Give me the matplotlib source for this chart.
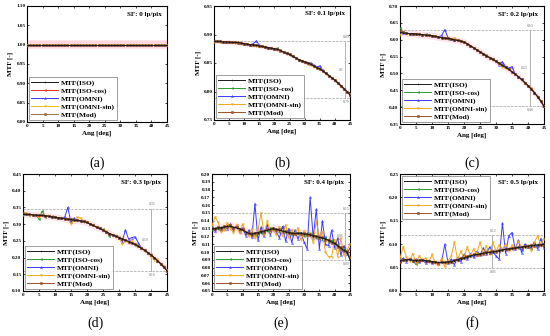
import numpy as np
import matplotlib
matplotlib.use("Agg")
import matplotlib.pyplot as plt

plt.rcParams['font.family'] = ['Liberation Serif', 'DejaVu Serif']

ang = list(range(0, 46))

names = ["MTF(ISO)", "MTF(ISO-cos)", "MTF(OMNI)", "MTF(OMNI-sin)", "MTF(Mod)"]
sf_labels = ["SF: 0 lp/pix", "SF: 0.1 lp/pix", "SF: 0.2 lp/pix",
             "SF: 0.3 lp/pix", "SF: 0.4 lp/pix", "SF: 0.5 lp/pix"]
panel_tags = ["(a)", "(b)", "(c)", "(d)", "(e)", "(f)"]

# (a) SF 0 - everything sits at 1.0
iso_a = [1.00] * 46
isocos_a = [1.00] * 46
omni_a = [1.00] * 46
omnisin_a = [1.00] * 46
mod_a = [1.00] * 46

# (b) SF 0.1
iso_b = [.888, .888, .888, .887, .887, .887, .886, .886, .886, .885, .884, .883, .882, .882, .881, .880,
         .879, .878, .877, .876, .875, .874, .872, .869, .867, .865, .862, .859, .856, .854, .852, .850,
         .848, .845, .842, .840, .836, .832, .828, .824, .820, .815, .810, .805, .800, .794]
isocos_b = [.888, .888, .887, .887, .887, .886, .886, .886, .885, .885, .884, .883, .882, .881, .881, .880,
            .879, .878, .877, .876, .875, .876, .872, .869, .867, .864, .862, .859, .855, .854, .852, .849,
            .848, .845, .842, .839, .836, .832, .828, .824, .819, .815, .810, .805, .800, .795]
omni_b = [.888, .888, .888, .887, .887, .887, .886, .886, .886, .885, .884, .883, .882, .884, .889, .881,
          .879, .878, .877, .876, .875, .874, .872, .869, .867, .865, .862, .859, .856, .854, .852, .850,
          .850, .846, .843, .845, .837, .832, .828, .824, .820, .815, .810, .805, .800, .794]
omnisin_b = [.887, .888, .887, .887, .886, .887, .886, .885, .886, .885, .884, .883, .882, .882, .880, .880,
             .879, .878, .877, .876, .875, .873, .872, .869, .866, .865, .862, .859, .856, .853, .852, .850,
             .847, .843, .842, .840, .836, .831, .828, .824, .820, .815, .810, .804, .800, .795]
mod_b = [.888, .888, .888, .887, .887, .887, .886, .886, .885, .885, .884, .883, .882, .882, .881, .880,
         .879, .878, .877, .876, .875, .874, .871, .869, .867, .865, .862, .859, .856, .854, .851, .850,
         .848, .845, .842, .840, .836, .832, .828, .823, .820, .815, .810, .805, .800, .794]

# (c) SF 0.2
iso_c = [.622, .620, .619, .618, .618, .617, .616, .615, .614, .613, .612, .610, .608, .606, .605, .604,
         .602, .600, .598, .596, .593, .588, .582, .576, .570, .564, .558, .552, .547, .542, .536, .530,
         .524, .518, .512, .505, .498, .490, .482, .473, .464, .454, .443, .431, .418, .402]
isocos_c = [.635, .622, .619, .618, .617, .617, .616, .615, .616, .613, .612, .610, .608, .606, .605, .603,
            .602, .600, .598, .596, .593, .588, .582, .576, .570, .564, .558, .554, .547, .542, .536, .530,
            .524, .518, .512, .505, .498, .490, .482, .473, .464, .454, .443, .431, .418, .403]
omni_c = [.622, .620, .619, .618, .618, .617, .616, .615, .614, .613, .612, .610, .608, .612, .630, .606,
          .602, .600, .598, .596, .593, .588, .582, .576, .570, .564, .558, .552, .547, .542, .536, .526,
          .535, .520, .516, .520, .498, .490, .482, .473, .464, .454, .443, .431, .418, .402]
omnisin_c = [.615, .620, .618, .618, .617, .617, .615, .615, .614, .612, .612, .610, .607, .606, .604, .604,
             .602, .604, .600, .596, .592, .588, .582, .576, .569, .564, .558, .551, .547, .541, .536, .528,
             .520, .515, .512, .504, .498, .490, .481, .473, .463, .458, .443, .431, .418, .402]
mod_c = [.625, .623, .619, .618, .618, .617, .616, .615, .614, .613, .612, .610, .608, .606, .605, .604,
         .602, .600, .598, .596, .593, .588, .582, .576, .570, .564, .558, .552, .547, .542, .536, .530,
         .524, .518, .512, .505, .498, .490, .482, .473, .464, .454, .443, .431, .418, .402]

# (d) SF 0.3
iso_d = [.330, .329, .329, .328, .327, .326, .326, .325, .324, .322, .321, .319, .318, .316, .315, .314,
         .312, .311, .310, .308, .305, .300, .296, .291, .287, .282, .277, .272, .268, .264, .260, .256,
         .252, .248, .244, .240, .234, .228, .222, .215, .208, .200, .191, .182, .172, .161]
isocos_d = [.331, .330, .328, .328, .327, .316, .339, .322, .324, .323, .320, .319, .317, .316, .315, .313,
            .312, .311, .309, .308, .305, .300, .296, .291, .287, .284, .277, .266, .268, .264, .259, .256,
            .252, .247, .244, .239, .234, .228, .221, .215, .207, .200, .191, .181, .172, .162]
omni_d = [.330, .329, .329, .328, .327, .326, .326, .325, .324, .322, .321, .319, .318, .320, .350, .305,
          .318, .311, .310, .308, .305, .300, .296, .291, .287, .282, .277, .272, .268, .264, .260, .248,
          .283, .255, .260, .262, .245, .228, .222, .215, .208, .200, .191, .182, .172, .161]
omnisin_d = [.328, .334, .328, .327, .326, .320, .327, .324, .325, .321, .322, .318, .319, .315, .316, .300,
             .313, .320, .318, .307, .306, .299, .297, .290, .288, .281, .278, .271, .269, .263, .261, .240,
             .250, .245, .250, .238, .236, .226, .223, .213, .205, .193, .195, .180, .174, .162]
mod_d = [.332, .330, .329, .328, .327, .327, .326, .325, .324, .322, .321, .319, .318, .316, .315, .314,
         .312, .311, .310, .308, .305, .300, .296, .291, .287, .282, .277, .272, .268, .264, .260, .256,
         .252, .248, .244, .240, .234, .228, .222, .215, .208, .200, .191, .182, .172, .161]

# (e) SF 0.4
iso_e = [.130, .130, .131, .131, .132, .133, .133, .132, .131, .130, .128, .126, .124, .123, .124, .125,
         .126, .127, .128, .129, .130, .129, .128, .127, .126, .125, .124, .124, .124, .124, .123, .123,
         .122, .121, .120, .119, .118, .117, .115, .113, .111, .108, .105, .102, .100, .090]
isocos_e = [.128, .131, .129, .132, .130, .134, .132, .130, .132, .128, .129, .125, .123, .125, .122, .126,
            .124, .128, .127, .131, .128, .130, .126, .132, .125, .127, .122, .126, .123, .125, .121, .124,
            .120, .123, .118, .121, .116, .119, .113, .115, .109, .110, .103, .104, .099, .092]
omni_e = [.133, .127, .132, .128, .133, .130, .136, .128, .134, .126, .131, .121, .128, .119, .162, .115,
          .132, .120, .135, .122, .131, .126, .118, .133, .114, .130, .112, .128, .117, .125, .113, .104,
          .170, .118, .155, .104, .140, .110, .108, .128, .105, .118, .096, .108, .098, .105]
omnisin_e = [.134, .145, .138, .126, .128, .137, .130, .125, .134, .124, .136, .126, .120, .130, .118, .128,
             .150, .122, .140, .126, .128, .122, .132, .120, .135, .118, .128, .123, .131, .115, .127, .120,
             .125, .112, .140, .118, .126, .100, .094, .094, .116, .094, .118, .096, .102, .110]
mod_e = [.131, .129, .132, .130, .133, .132, .134, .131, .132, .129, .129, .125, .125, .122, .125, .124,
         .127, .126, .129, .128, .131, .128, .129, .126, .127, .124, .125, .123, .125, .123, .124, .122,
         .123, .120, .121, .118, .119, .116, .116, .112, .112, .107, .106, .101, .101, .093]

# (f) SF 0.5
iso_f = [.064, .066, .067, .067, .066, .065, .066, .066, .065, .064, .063, .062, .061, .061, .061, .062,
         .063, .065, .067, .069, .071, .073, .075, .077, .078, .079, .081, .082, .083, .084, .085, .086,
         .088, .089, .090, .091, .092, .093, .094, .095, .096, .097, .098, .098, .099, .100]
isocos_f = [.065, .067, .066, .068, .064, .057, .066, .067, .064, .065, .062, .063, .060, .062, .060, .063,
            .062, .066, .066, .070, .075, .072, .076, .076, .079, .078, .082, .081, .084, .083, .086, .085,
            .089, .088, .091, .090, .093, .092, .088, .094, .097, .092, .099, .097, .100, .099]
omni_f = [.066, .070, .063, .069, .064, .068, .062, .066, .060, .064, .059, .063, .057, .062, .100, .060,
          .068, .056, .072, .063, .078, .068, .080, .072, .085, .076, .092, .080, .094, .083, .075, .068,
          .145, .080, .118, .125, .090, .108, .082, .100, .095, .092, .105, .090, .112, .092]
omnisin_f = [.070, .095, .072, .065, .080, .060, .075, .066, .070, .062, .078, .060, .055, .070, .052, .065,
             .074, .105, .066, .085, .070, .094, .076, .090, .080, .104, .082, .096, .078, .104, .085, .098,
             .090, .100, .086, .098, .092, .106, .095, .094, .098, .086, .104, .118, .098, .112]
mod_f = [.063, .067, .066, .068, .065, .066, .065, .067, .064, .065, .062, .063, .060, .062, .061, .063,
         .062, .066, .066, .070, .070, .074, .074, .078, .077, .080, .080, .083, .082, .085, .084, .087,
         .087, .090, .089, .092, .091, .094, .093, .096, .095, .098, .097, .099, .098, .101]

series = [
    [iso_a, isocos_a, omni_a, omnisin_a, mod_a],
    [iso_b, isocos_b, omni_b, omnisin_b, mod_b],
    [iso_c, isocos_c, omni_c, omnisin_c, mod_c],
    [iso_d, isocos_d, omni_d, omnisin_d, mod_d],
    [iso_e, isocos_e, omni_e, omnisin_e, mod_e],
    [iso_f, isocos_f, omni_f, omnisin_f, mod_f],
]

# y-axis ranges / tick steps
ylims = [(0.80, 1.10), (0.75, 0.95), (0.35, 0.70), (0.10, 0.45), (0.05, 0.20), (0.00, 0.25)]
ysteps = [0.05, 0.05, 0.05, 0.05, 0.01, 0.05]

# range markers: (upper, lower, x position, labels)
ranges = [None,
          (0.888, 0.789, 43.5, ["0.89", "0.1", "0.79"]),
          (0.629, 0.403, 40.5, ["0.63", "0.23", "0.40"]),
          (0.346, 0.160, 40.0, ["0.35", "0.19", "0.16"]),
          (0.150, 0.090, 43.5, ["0.15", "0.06", "0.09"]),
          (0.119, 0.050, 28.8, ["0.12", "0.07", "0.05"])]
band_w = [0.010, 0.004, 0.010, 0.010, 0.006, 0.006]

colors_a = ["#1a1a1a", "#e8322a", "#3a3aff", "#e8c020", "#9a6a3a"]
colors = ["#1a1a1a", "#2e9a2e", "#3a3aff", "#f0a818", "#a0502a"]
markers = [".", "<", "^", "v", "s"]

# axes rectangles in pixels: x0, x1, ytop, ybottom
rects = [(27, 167, 6, 122), (214, 350, 6, 120), (400, 544, 6, 124),
         (23, 167, 174, 291), (212, 350, 174, 291), (400, 544, 174, 291)]
W, H = 550, 336

fig = plt.figure(figsize=(5.5, 3.36), dpi=100)

for i in range(6):
    x0, x1, yt, yb = rects[i]
    ax = fig.add_axes([x0 / W, 1 - yb / H, (x1 - x0) / W, (yb - yt) / H])
    cols = colors_a if i == 0 else colors

    mod = np.array(series[i][4])
    ax.fill_between(ang, mod - band_w[i], mod + band_w[i], color="#ffd0dc", alpha=0.6, lw=0, zorder=1)

    for k in range(5):
        ax.plot(ang, series[i][k], color=cols[k], lw=0.7, marker=markers[k], ms=1.4,
                mfc="none" if k in (2, 3) else cols[k], mew=0.4, label=names[k], zorder=3 + (k == 0))

    lo, hi = ylims[i]
    ax.set_ylim(lo, hi)
    ax.set_xlim(0, 45)
    ax.set_xticks(range(0, 46, 5))
    ax.set_yticks(np.arange(lo, hi + ysteps[i] / 2, ysteps[i]))
    ax.yaxis.set_major_formatter(plt.FormatStrFormatter("%.2f"))
    ax.tick_params(direction="in", labelsize=3.7, length=1.5, width=0.5, pad=1.2, top=True, right=True)
    for lbl in ax.get_xticklabels() + ax.get_yticklabels():
        lbl.set_fontweight("bold")
    for sp in ax.spines.values():
        sp.set_linewidth(0.8)

    ax.set_xlabel("Ang [deg]", fontsize=5, fontweight="bold", labelpad=2)
    ax.set_ylabel("MTF [-]", fontsize=5, fontweight="bold", labelpad=2)
    ax.text(0.96, 0.93, sf_labels[i], transform=ax.transAxes, ha="right", va="center",
            fontsize=5, fontweight="bold")

    if i == 0:
        ax.axhspan(0.992, 1.012, color="#ffd0dc", alpha=0.6, lw=0, zorder=0)

    if ranges[i] is not None:
        up, dn, xv, labs = ranges[i]
        ax.axhline(up, color="#a0a0a0", lw=0.5, ls="--", zorder=2)
        ax.axhline(dn, color="#a0a0a0", lw=0.5, ls="--", zorder=2)
        ax.plot([xv, xv], [dn, up], color="#b0b0b0", lw=0.7, zorder=2)
        dy = (hi - lo) * 0.02
        ax.text(xv + 0.3, up + dy, labs[0], fontsize=2.8, color="#707070", ha="center", va="bottom")
        ax.text(xv - 0.6, (up + dn) / 2, labs[1], fontsize=2.8, color="#707070", ha="right", va="center")
        ax.text(xv + 0.3, dn - dy, labs[2], fontsize=2.8, color="#707070", ha="center", va="top")

    leg = ax.legend(loc="upper left" if i == 5 else "lower left", handlelength=3.6,
                    handletextpad=0.4, borderpad=0.3, labelspacing=0.2, borderaxespad=0.3,
                    frameon=True, fancybox=False, edgecolor="#555555",
                    prop={"weight": "bold", "size": 5.3})
    leg.get_frame().set_linewidth(0.5)

    # panel tag below
    cx = (x0 + x1) / 2 / W
    ty = 163 if i < 3 else 323
    fig.text(cx, 1 - ty / H, panel_tags[i], ha="center", va="center", fontsize=10)

fig.savefig("out.png", dpi=100)
